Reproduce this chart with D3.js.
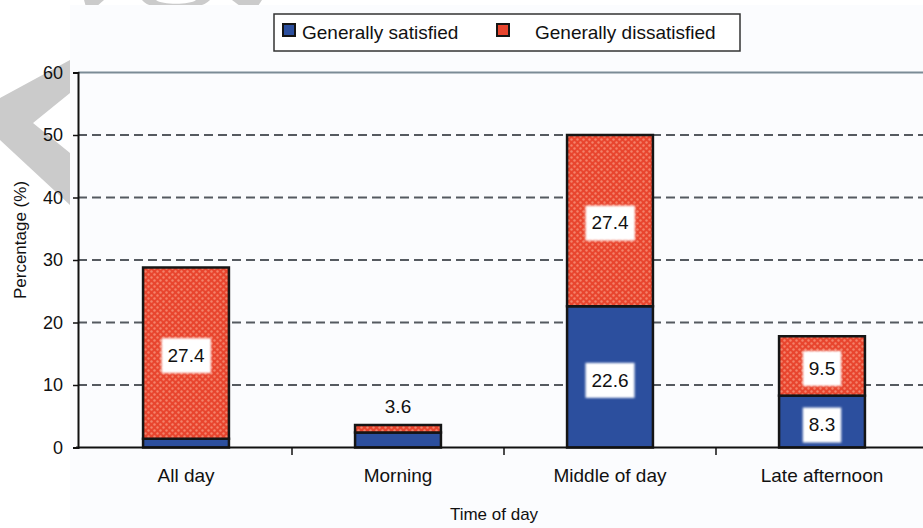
<!DOCTYPE html>
<html>
<head>
<meta charset="utf-8">
<script src="https://cdn.jsdelivr.net/npm/d3@7"></script>
<style>
  html, body { margin: 0; padding: 0; background: #ffffff; }
  svg { display: block; font-family: "Liberation Sans", Arial, Helvetica, sans-serif; }
</style>
</head>
<body>
<svg id="chart" width="923" height="528"></svg>
<script>
// Survey results by time of day (percent of respondents)
const categories = ["All day", "Morning", "Middle of day", "Late afternoon"];
const satisfied = [1.4, 2.4, 22.6, 8.3];
const dissatisfied = [27.4, 1.2, 27.4, 9.5];
const yTicks = [0, 10, 20, 30, 40, 50, 60];
const seriesNames = ["Generally satisfied", "Generally dissatisfied"];
// which values carry a printed label
const labelSatisfied = [false, false, true, true];
const labelDissatisfied = [true, false, true, true];
const labelTotal = [false, true, false, false];

const svg = d3.select("#chart");
const W = 923, H = 528;

// faint grey proof stamp behind the chart frame
const stamp = svg.append("g").attr("fill", "#cbcbcb");
stamp.append("path").attr("d", "M70,60 L70,93 L33,123 L70,153 L70,205 L0,140 L0,98 Z");
stamp.append("path").attr("d", "M84,0 L104,0 L96,7 L86,7 Z");
stamp.append("path").attr("d", "M142,0 C150,12 200,12 210,0 L196,0 C190,5 162,5 156,0 Z");
stamp.append("path").attr("d", "M232,0 L262,0 L258,6 L240,6 Z");

// chart frame background
svg.append("rect").attr("x", 70).attr("y", 5).attr("width", W - 70).attr("height", H - 5)
  .attr("fill", "#fbfcfe");

const defs = svg.append("defs");
const pat = defs.append("pattern").attr("id", "dots").attr("patternUnits", "userSpaceOnUse")
  .attr("width", 6).attr("height", 6);
pat.append("rect").attr("width", 6).attr("height", 6).attr("fill", "#e8452e");
pat.append("circle").attr("cx", 1.5).attr("cy", 1.5).attr("r", 1.2).attr("fill", "#f4826a");
pat.append("circle").attr("cx", 4.5).attr("cy", 4.5).attr("r", 1.2).attr("fill", "#f4826a");
defs.append("filter").attr("id", "soft").append("feGaussianBlur").attr("stdDeviation", 0.8);

const colors = ["#2c4f9e", "url(#dots)"];

const x = d3.scaleBand().domain(categories).range([80, 928])
  .paddingInner(0.595).paddingOuter(0.2975);
const y = d3.scaleLinear().domain([0, 60]).range([447.5, 72.5]);

// gridlines
const grid = svg.append("g");
grid.selectAll("line").data(yTicks.filter(d => d > 0)).join("line")
  .attr("x1", 78).attr("x2", W)
  .attr("y1", d => y(d)).attr("y2", d => y(d))
  .attr("stroke", d => d === 60 ? "#7b8b96" : "#555a60")
  .attr("stroke-width", 2)
  .attr("stroke-dasharray", d => d === 60 ? null : "9,5");

// stacked bars
const rows = categories.map((c, i) => ({ cat: c, sat: satisfied[i], dis: dissatisfied[i] }));
const stack = d3.stack().keys(["sat", "dis"])(rows);

svg.append("g").selectAll("g").data(stack).join("g")
  .attr("fill", (d, i) => colors[i])
  .selectAll("rect").data(d => d).join("rect")
  .attr("x", d => x(d.data.cat))
  .attr("width", x.bandwidth())
  .attr("y", d => y(d[1]))
  .attr("height", d => y(d[0]) - y(d[1]))
  .attr("stroke", "#151515")
  .attr("stroke-width", 2.5);

// value labels
const labels = svg.append("g").attr("font-size", 19).attr("fill", "#111").attr("text-anchor", "middle");
function valueLabel(cx, cy, txt, boxed) {
  const t = labels.append("text").attr("x", cx).attr("y", cy).attr("dy", "0.35em").text(txt);
  if (boxed) {
    const bb = t.node().getBBox();
    labels.insert("rect", () => t.node())
      .attr("x", bb.x - 6).attr("y", cy - 17)
      .attr("width", bb.width + 12).attr("height", 35)
      .attr("fill", "#ffffff").attr("filter", "url(#soft)");
  }
}
rows.forEach((r, i) => {
  const cx = x(r.cat) + x.bandwidth() / 2;
  if (labelSatisfied[i]) valueLabel(cx, y(r.sat / 2) + 3, d3.format(".1f")(r.sat), true);
  if (labelDissatisfied[i]) valueLabel(cx, y(r.sat + r.dis / 2) + 2, d3.format(".1f")(r.dis), true);
  if (labelTotal[i]) valueLabel(cx, y(r.sat + r.dis) - 19, d3.format(".1f")(r.sat + r.dis), false);
});

// y axis
const yAxis = svg.append("g").attr("transform", "translate(78,0)")
  .call(d3.axisLeft(y).tickValues(yTicks).tickSize(5).tickPadding(10).tickFormat(d3.format("d")));
yAxis.select(".domain").attr("stroke", "#111").attr("stroke-width", 2);
yAxis.selectAll(".tick line").attr("stroke", "#111").attr("stroke-width", 1.5);
yAxis.selectAll("text").attr("font-size", 18).attr("fill", "#111")
  .attr("font-family", "'Liberation Sans', Arial, sans-serif");

// x axis
const xAxis = svg.append("g").attr("transform", "translate(0,447.5)")
  .call(d3.axisBottom(x).tickSize(0).tickPadding(21));
xAxis.select(".domain").remove();
xAxis.selectAll("text").attr("font-size", 19).attr("fill", "#111")
  .attr("font-family", "'Liberation Sans', Arial, sans-serif");
svg.append("line").attr("x1", 76).attr("x2", W).attr("y1", 447.5).attr("y2", 447.5)
  .attr("stroke", "#111").attr("stroke-width", 2);
const step = x.step();
svg.append("g").selectAll("line").data(categories.slice(0, -1)).join("line")
  .attr("x1", d => x(d) + x.bandwidth() + (step - x.bandwidth()) / 2)
  .attr("x2", d => x(d) + x.bandwidth() + (step - x.bandwidth()) / 2)
  .attr("y1", 447.5).attr("y2", 455)
  .attr("stroke", "#111").attr("stroke-width", 1.5);

// axis titles
svg.append("text").attr("x", 494).attr("y", 520).attr("text-anchor", "middle")
  .attr("font-size", 17).attr("fill", "#111").text("Time of day");
svg.append("text").attr("transform", "translate(26,240) rotate(-90)").attr("text-anchor", "middle")
  .attr("font-size", 17).attr("fill", "#111").text("Percentage (%)");

// legend
const lg = svg.append("g");
lg.append("rect").attr("x", 274).attr("y", 14).attr("width", 466).attr("height", 37)
  .attr("fill", "#ffffff").attr("stroke", "#333").attr("stroke-width", 1.5);
const legendX = [[283, 302], [497, 535]];
seriesNames.forEach((name, i) => {
  lg.append("rect").attr("x", legendX[i][0]).attr("y", 24).attr("width", 12).attr("height", 12)
    .attr("fill", i === 0 ? "#2c4f9e" : "#e8452e").attr("stroke", "#151515").attr("stroke-width", 2);
  lg.append("text").attr("x", legendX[i][1]).attr("y", 39).attr("font-size", 19)
    .attr("fill", "#111").text(name);
});
</script>
</body>
</html>
